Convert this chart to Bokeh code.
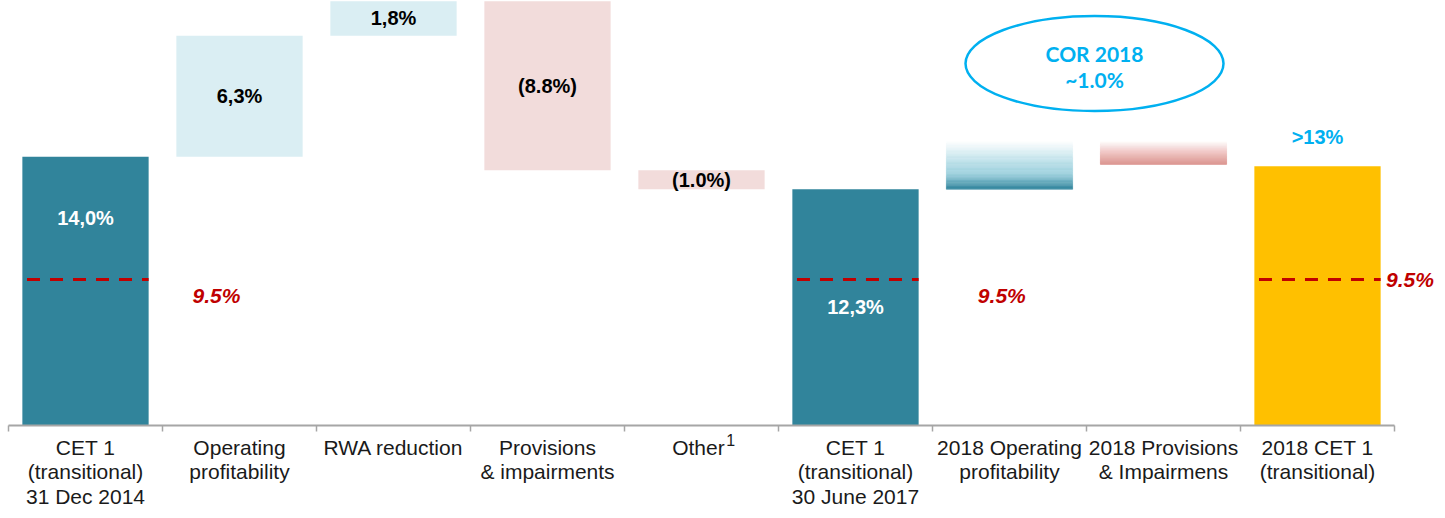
from bokeh.plotting import figure
from bokeh.models import ColumnDataSource, Range1d
from bokeh.core.properties import value
from bokeh.embed import file_html
from bokeh.resources import INLINE

# ---------------- data ----------------
categories = [
    "CET 1\n(transitional)\n31 Dec 2014",
    "Operating\nprofitability",
    "RWA reduction",
    "Provisions\n& impairments",
    "Other",
    "CET 1\n(transitional)\n30 June 2017",
    "2018 Operating\nprofitability",
    "2018 Provisions\n& Impairmens",
    "2018 CET 1\n(transitional)",
]
footnote_marks = ["", "", "", "", "1", "", "", "", ""]
start_value = 14.0
deltas_2017 = [6.3, 1.8, -8.8, -1.0]
cet1_2017 = 12.3
deltas_2018 = [2.5, -1.2]
cet1_2018 = 13.5
value_labels = ["14,0%", "6,3%", "1,8%", "(8.8%)", "(1.0%)", "12,3%", "", "", ">13%"]
threshold_label = "9.5%"
threshold_level = 7.6
cor_text = ["COR 2018", "~1.0%"]

# ---------------- geometry from data ----------------
n = len(categories)
xs = [i + 0.5 for i in range(n)]
bottoms, tops = [], []
bottoms.append(0.0); tops.append(start_value)
run = start_value
for d in deltas_2017:
    b, t = (run, run + d) if d >= 0 else (run + d, run)
    bottoms.append(b); tops.append(t); run += d
bottoms.append(0.0); tops.append(cet1_2017)
run = cet1_2017
for d in deltas_2018:
    b, t = (run, run + d) if d >= 0 else (run + d, run)
    bottoms.append(b); tops.append(t); run += d
bottoms.append(0.0); tops.append(cet1_2018)

TEAL = "#31849B"
LBLUE = "#DAEEF3"
PINK = "#F2DCDB"
YELLOW = "#FFC000"
RED = "#C00000"
CYAN = "#00B0F0"

fill = [TEAL, LBLUE, LBLUE, PINK, PINK, TEAL, None, None, YELLOW]

W, H = 1437, 510
PX = 19.2        # pixels per percentage point
CAT_PX = 154     # pixels per category
X0 = 8           # left edge of the axis, px
BASE = 425       # baseline, px from top
p = figure(width=W, height=H, output_backend="svg", toolbar_location=None,
           x_range=Range1d(-X0 / CAT_PX, (W - X0) / CAT_PX),
           y_range=Range1d(-(H - BASE) / PX, BASE / PX),
           min_border=0, min_border_left=0, min_border_right=0,
           min_border_top=0, min_border_bottom=0)
p.xaxis.visible = False
p.yaxis.visible = False
p.xgrid.visible = False
p.ygrid.visible = False
p.outline_line_color = None
p.background_fill_color = "white"
p.border_fill_color = "white"

BW = 0.82
solid_idx = [i for i in range(n) if fill[i] is not None]
src = ColumnDataSource(dict(x=[xs[i] for i in solid_idx],
                            b=[bottoms[i] for i in solid_idx],
                            t=[tops[i] for i in solid_idx],
                            c=[fill[i] for i in solid_idx]))
p.vbar(x="x", bottom="b", top="t", width=BW, fill_color="c", line_color=None, source=src)


def hex2rgb(h):
    h = h.lstrip("#")
    return tuple(int(h[k:k + 2], 16) for k in (0, 2, 4))


def interp(stops, f):
    for (f0, c0), (f1, c1) in zip(stops[:-1], stops[1:]):
        if f0 <= f <= f1:
            u = 0 if f1 == f0 else (f - f0) / (f1 - f0)
            a, b = hex2rgb(c0), hex2rgb(c1)
            return "#%02x%02x%02x" % tuple(int(round(a[k] + (b[k] - a[k]) * u)) for k in range(3))
    return stops[-1][1]


grad_stops = {
    6: [(0.0, "#FFFFFF"), (0.45, "#B9DFE8"), (0.7, "#9ACFDC"), (1.0, "#2F839B")],
    7: [(0.0, "#FFFFFF"), (0.5, "#EFC4C2"), (1.0, "#DC948F")],
}
NS = 40
gx, gb, gt, gc = [], [], [], []
for i, stops in grad_stops.items():
    top, bot = tops[i], bottoms[i]
    h = (top - bot) / NS
    for k in range(NS):
        f = (k + 0.5) / NS
        gx.append(xs[i]); gt.append(top - k * h); gb.append(top - (k + 1) * h)
        gc.append(interp(stops, f))
p.vbar(x=gx, bottom=gb, top=gt, width=BW, fill_color=gc, line_color=gc, line_width=0.5)

# threshold dashed lines on the total bars
for i in (0, 5, 8):
    p.segment(x0=xs[i] - BW / 2 + 0.03, x1=xs[i] + BW / 2, y0=threshold_level, y1=threshold_level,
              line_color=RED, line_width=3, line_dash="13 10")

# baseline axis
p.segment(x0=0, x1=n, y0=0, y1=0, line_color="#A6A6A6", line_width=2)
p.segment(x0=list(range(n + 1)), x1=list(range(n + 1)), y0=[0] * (n + 1), y1=[-6 / PX] * (n + 1),
          line_color="#A6A6A6", line_width=1.5)

FONT = value("Liberation Sans")
lab_x = [xs[i] - (0.02 if footnote_marks[i] else 0) for i in range(n)]
p.text(x=lab_x, y=[-10 / PX] * n, text=categories, text_font=FONT, text_font_size="21px",
       text_align="center", text_baseline="top", text_color="#1a1a1a", text_line_height=1.08)
# footnote superscripts
fn_idx = [i for i in range(n) if footnote_marks[i]]
p.text(x=[xs[i] + 0.19 for i in fn_idx], y=[-8 / PX] * len(fn_idx),
       text=[footnote_marks[i] for i in fn_idx], text_font=FONT, text_font_size="16px",
       text_align="center", text_baseline="top", text_color="#1a1a1a")

# value labels
lab_y = []
for i in range(n):
    if i == 0:
        lab_y.append(tops[i] - 3.2)
    elif i == n - 1:
        lab_y.append(tops[i] + 1.55)
    else:
        lab_y.append((tops[i] + bottoms[i]) / 2)
lab_col = ["white", "black", "black", "black", "black", "white", "black", "black", CYAN]
p.text(x=xs, y=lab_y, text=value_labels, text_font=FONT, text_font_size="20px",
       text_font_style="bold", text_align="center", text_baseline="middle", text_color=lab_col)

# threshold labels
p.text(x=[1.35, 6.45, 9.10], y=[threshold_level - 0.85, threshold_level - 0.85, threshold_level + 0.03],
       text=[threshold_label] * 3, text_font=FONT, text_font_size="21px",
       text_font_style="bold italic", text_align="center", text_baseline="middle", text_color=RED)

# COR ellipse
ecx, ecy = 7.052, 18.85
p.ellipse(x=[ecx], y=[ecy], width=258 / CAT_PX, height=95 / PX, fill_color=None,
          line_color=CYAN, line_width=2.5)
p.text(x=[ecx, ecx], y=[ecy + 0.55, ecy - 0.85], text=cor_text, text_font=value("Lato"),
       text_font_size="21px", text_font_style="bold", text_align="center",
       text_baseline="middle", text_color=CYAN)

open("out.html", "w").write(file_html(p, INLINE))
